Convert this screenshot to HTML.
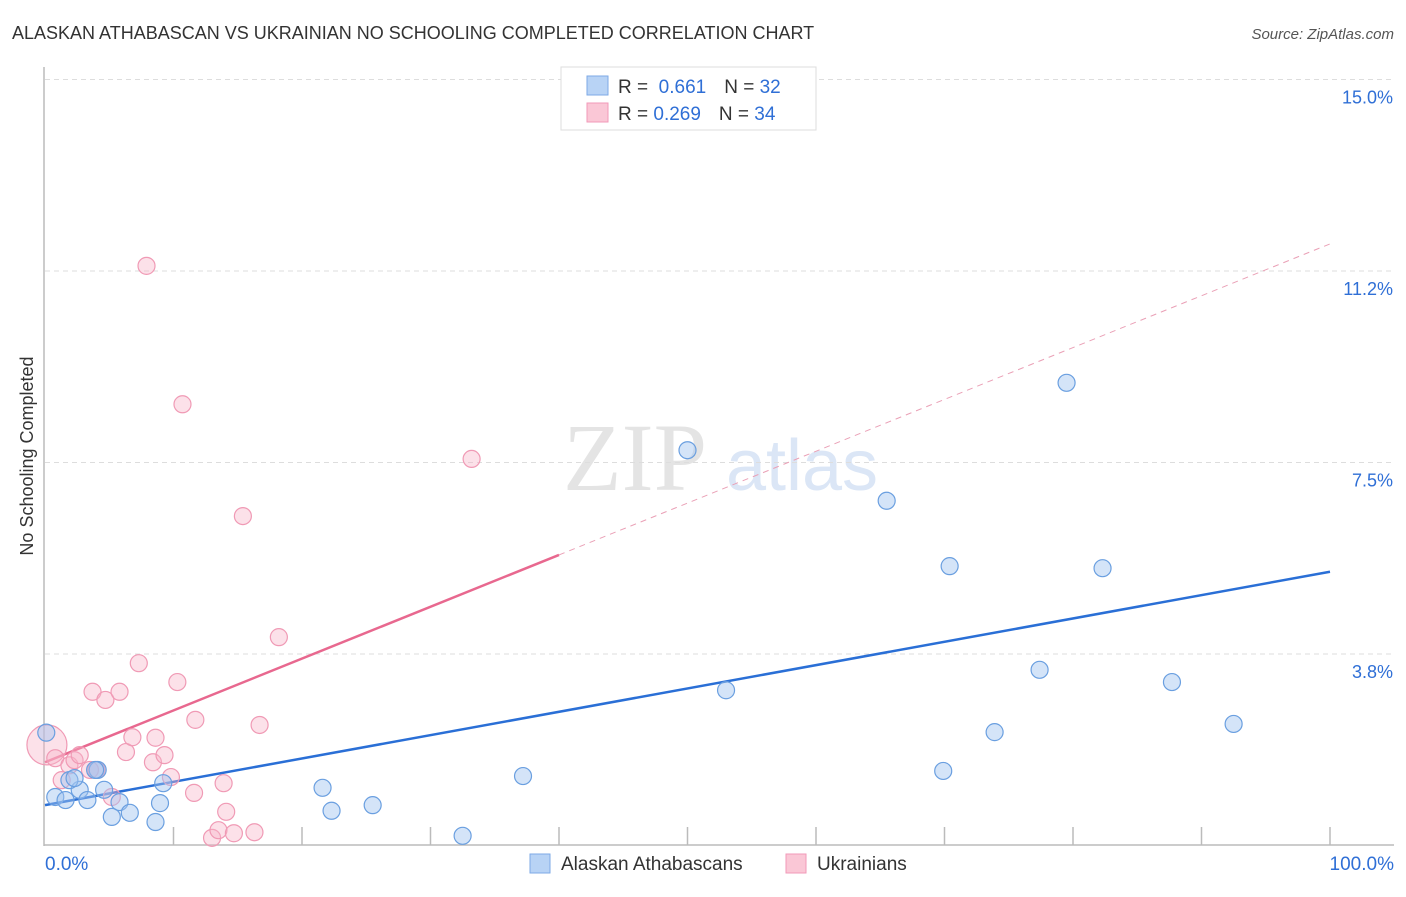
<!DOCTYPE html>
<html><head><meta charset="utf-8"><style>
body{margin:0;background:#fff;font-family:"Liberation Sans",sans-serif;}
svg text{font-family:"Liberation Sans",sans-serif;}
</style></head><body>
<svg id="chart" width="1406" height="892">
<text x="12" y="39" font-size="18" fill="#333">ALASKAN ATHABASCAN VS UKRAINIAN NO SCHOOLING COMPLETED CORRELATION CHART</text>
<text x="1394" y="39" font-size="15" fill="#555" font-style="italic" text-anchor="end">Source: ZipAtlas.com</text>
<text transform="translate(33,456) rotate(-90)" font-size="18" fill="#333" text-anchor="middle">No Schooling Completed</text>
<g>
<text x="635" y="490" font-size="96" fill="#e4e4e4" font-family="Liberation Serif" text-anchor="middle" style="font-family:'Liberation Serif',serif">ZIP</text>
<text x="802" y="490" font-size="72" fill="#dbe6f6" text-anchor="middle">atlas</text>
</g>
<g id="grid"></g><g id="axes"></g><g id="trends"></g><g id="points"></g>
<g>
<rect x="561" y="67" width="255" height="63" fill="#fff" stroke="#ddd"/>
<rect x="587" y="76" width="21" height="19" fill="#b8d3f5" stroke="#7eaae6"/>
<rect x="587" y="103" width="21" height="19" fill="#fac7d6" stroke="#f29ab8"/>
<text x="618" y="93" font-size="19" fill="#333">R = <tspan fill="#2f6fd6">&#160;0.661</tspan><tspan dx="18">N = </tspan><tspan fill="#2f6fd6">32</tspan></text>
<text x="618" y="120" font-size="19" fill="#333">R = <tspan fill="#2f6fd6">0.269</tspan><tspan dx="18">N = </tspan><tspan fill="#2f6fd6">34</tspan></text>
</g>
<g>
<rect x="530" y="854" width="20" height="19" fill="#b8d3f5" stroke="#7eaae6"/>
<text x="561" y="870" font-size="19" fill="#333">Alaskan Athabascans</text>
<rect x="786" y="854" width="20" height="19" fill="#fac7d6" stroke="#f29ab8"/>
<text x="817" y="870" font-size="19" fill="#333">Ukrainians</text>
</g>
</svg>
<script>
const yTicks=[3.75,7.5,11.25,15];
const yTickLabels=["3.8%","7.5%","11.2%","15.0%"];
const xTickLabels=["0.0%","100.0%"];
const blueX=[0.1,0.8,1.6,2.7,3.3,4.1,3.9,4.6,5.2,5.8,6.6,8.6,8.95,9.2,21.6,22.3,25.5,32.5,37.2,50.0,53.0,65.5,69.9,70.4,73.9,77.4,79.5,82.3,87.7,92.5,1.9,2.3];
const blueY=[2.21,0.95,0.89,1.09,0.89,1.48,1.48,1.09,0.56,0.85,0.64,0.46,0.83,1.22,1.13,0.68,0.79,0.19,1.36,7.74,3.04,6.75,1.46,5.47,2.22,3.44,9.06,5.43,3.20,2.38,1.28,1.32];
const pinkX=[0.15,0.8,1.3,1.9,2.3,2.7,3.5,3.7,4.7,5.2,5.8,6.3,6.8,7.3,7.9,8.4,8.6,9.3,9.8,10.3,10.7,11.7,11.6,13.0,13.5,13.9,14.1,14.7,15.4,16.3,16.7,18.2,33.2,4.0];
const pinkY=[1.97,1.71,1.28,1.57,1.67,1.77,1.48,3.01,2.85,0.95,3.01,1.83,2.12,3.57,11.35,1.63,2.11,1.77,1.34,3.20,8.64,2.46,1.03,0.15,0.30,1.22,0.66,0.24,6.45,0.26,2.36,4.08,7.57,1.48];
const blueTrend=[0.79,5.36];
const pinkTrend=[1.63,11.78];
const pinkSolidEnd=40;

const NS="http://www.w3.org/2000/svg";
const sx=v=>45+v*12.85;
const sy=v=>845.5-v*51.07;
function mk(tag,attrs,parent){const e=document.createElementNS(NS,tag);for(const k in attrs)e.setAttribute(k,attrs[k]);document.getElementById(parent).appendChild(e);return e;}
yTicks.forEach((t,i)=>{
  const l=mk('line',{x1:45,x2:1394,y1:sy(t),y2:sy(t),stroke:'#ddd','stroke-dasharray':'5,4'},'grid');
  
  
  const tx=mk('text',{x:1393,y:sy(t)+24,'font-size':18,fill:'#2f6fd6','text-anchor':'end'},'grid');
  tx.textContent=yTickLabels[i];
  
  
});
const ya=mk('line',{x1:44,x2:44,y1:67,y2:846,stroke:'#bbb','stroke-width':1.5},'axes');


const xa=mk('line',{x1:44,x2:1394,y1:845,y2:845,stroke:'#bbb','stroke-width':1.5},'axes');


for(let i=1;i<=10;i++){
  const t=mk('line',{x1:sx(i*10),x2:sx(i*10),y1:827,y2:845,stroke:'#bbb','stroke-width':1.5},'axes');
  
  
}
const xl0=mk('text',{x:45,y:870,'font-size':19,fill:'#2f6fd6'},'axes');xl0.textContent=xTickLabels[0];


const xl1=mk('text',{x:1394,y:870,'font-size':19,fill:'#2f6fd6','text-anchor':'end'},'axes');xl1.textContent=xTickLabels[1];



const bl=mk('line',{x1:sx(0),y1:sy(blueTrend[0]),x2:sx(100),y2:sy(blueTrend[1]),stroke:'#2a6fd6','stroke-width':2.5},'trends');


const pEnd=pinkTrend[0]+(pinkTrend[1]-pinkTrend[0])*pinkSolidEnd/100;
const pl=mk('line',{x1:sx(0),y1:sy(pinkTrend[0]),x2:sx(pinkSolidEnd),y2:sy(pEnd),stroke:'#e8688f','stroke-width':2.5},'trends');


const pd=mk('line',{x1:sx(pinkSolidEnd),y1:sy(pEnd),x2:sx(100),y2:sy(pinkTrend[1]),stroke:'#eaa0b6','stroke-width':1,'stroke-dasharray':'6,5'},'trends');



pinkX.forEach((x,i)=>{
  const c=mk('circle',{cx:sx(x),cy:sy(pinkY[i]),r:i===0?20:8.5,fill:'rgba(248,180,200,0.4)',stroke:'#f09ab5','stroke-width':1.2},'points');
  
  
});
blueX.forEach((x,i)=>{
  const c=mk('circle',{cx:sx(x),cy:sy(blueY[i]),r:8.5,fill:'rgba(160,196,240,0.45)',stroke:'#6a9fe0','stroke-width':1.2},'points');
  
  
});
</script>
</body></html>
